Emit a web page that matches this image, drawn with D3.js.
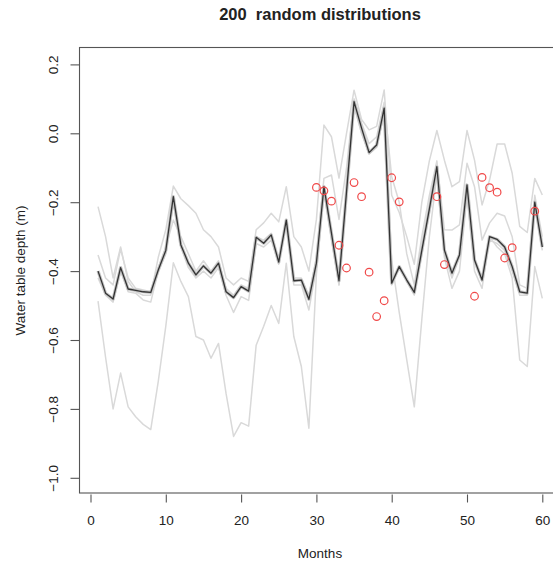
<!DOCTYPE html>
<html>
<head>
<meta charset="utf-8">
<script src="https://cdn.jsdelivr.net/npm/d3@7"></script>
<style>
  html, body { margin: 0; padding: 0; background: #fff; }
  svg { display: block; }
  text { font-family: "Liberation Sans", Arial, Helvetica, sans-serif; fill: #222; }
</style>
</head>
<body>
<svg id="chart" width="553" height="565"></svg>
<script>
// ---- data ----
const title = "200  random distributions";
const xLabel = "Months";
const yLabel = "Water table depth (m)";
const months = d3.range(1, 61);
const xTicks = [0, 10, 20, 30, 40, 50, 60];
const yTicks = [0.2, 0.0, -0.2, -0.4, -0.6, -0.8, -1.0];

// central (black) line
const central = [-0.40,-0.464,-0.481,-0.39,-0.452,-0.456,-0.46,-0.462,-0.397,-0.34,
  -0.184,-0.324,-0.377,-0.411,-0.385,-0.406,-0.377,-0.46,-0.477,-0.445,
  -0.458,-0.302,-0.319,-0.295,-0.374,-0.252,-0.428,-0.426,-0.482,-0.377,
  -0.155,-0.29,-0.428,-0.17,0.092,0.015,-0.056,-0.034,0.073,-0.435,
  -0.387,-0.426,-0.462,-0.34,-0.22,-0.097,-0.339,-0.406,-0.353,-0.15,
  -0.368,-0.426,-0.30,-0.308,-0.33,-0.387,-0.46,-0.464,-0.20,-0.33];

// outlying realizations (light grey)
const real1 = [-0.213,-0.30,-0.42,-0.33,-0.43,-0.46,-0.47,-0.47,-0.36,-0.28,
  -0.153,-0.19,-0.21,-0.232,-0.28,-0.30,-0.33,-0.42,-0.44,-0.42,
  -0.43,-0.28,-0.26,-0.232,-0.257,-0.155,-0.30,-0.33,-0.40,-0.25,
  0.024,-0.01,-0.13,0.0,0.125,0.04,0.01,0.02,0.126,-0.18,
  -0.23,-0.30,-0.38,-0.20,-0.08,0.008,-0.078,-0.155,-0.14,0.008,
  -0.078,-0.208,-0.135,-0.031,-0.031,-0.116,-0.27,-0.288,-0.131,-0.179];
const real2 = [-0.353,-0.42,-0.44,-0.336,-0.42,-0.45,-0.455,-0.46,-0.39,-0.33,
  -0.252,-0.30,-0.35,-0.40,-0.37,-0.40,-0.37,-0.45,-0.47,-0.44,
  -0.45,-0.30,-0.31,-0.29,-0.37,-0.25,-0.42,-0.42,-0.47,-0.36,
  -0.131,-0.121,-0.25,-0.10,0.10,0.03,-0.03,-0.01,0.09,-0.126,
  -0.20,-0.35,-0.44,-0.30,-0.18,-0.08,-0.28,-0.281,-0.266,-0.087,
  -0.155,-0.31,-0.26,-0.232,-0.24,-0.30,-0.44,-0.45,-0.18,-0.30];
const real3 = [-0.42,-0.47,-0.49,-0.40,-0.46,-0.464,-0.484,-0.49,-0.40,-0.35,
  -0.20,-0.33,-0.39,-0.42,-0.40,-0.42,-0.39,-0.47,-0.52,-0.474,
  -0.485,-0.32,-0.33,-0.31,-0.38,-0.26,-0.44,-0.44,-0.513,-0.39,
  -0.17,-0.31,-0.44,-0.19,0.08,0.0,-0.06,-0.04,0.06,-0.44,
  -0.39,-0.43,-0.47,-0.35,-0.23,-0.11,-0.35,-0.42,-0.36,-0.16,
  -0.37,-0.43,-0.31,-0.32,-0.34,-0.40,-0.47,-0.47,-0.21,-0.34];
const real4 = [-0.487,-0.65,-0.80,-0.696,-0.794,-0.823,-0.845,-0.86,-0.72,-0.56,
  -0.376,-0.43,-0.474,-0.59,-0.60,-0.653,-0.61,-0.755,-0.88,-0.84,
  -0.85,-0.615,-0.56,-0.50,-0.552,-0.377,-0.59,-0.677,-0.856,-0.41,
  -0.16,-0.30,-0.44,-0.18,0.08,0.0,-0.06,-0.04,0.06,-0.368,
  -0.52,-0.658,-0.794,-0.54,-0.30,-0.12,-0.36,-0.45,-0.40,-0.18,
  -0.40,-0.45,-0.30,-0.33,-0.35,-0.42,-0.658,-0.677,-0.387,-0.479];

// observations (red circles)
const obsMonths = [30,31,32,33,34,35,36,37,38,39,40,41,46,47,51,52,53,54,55,56,59];
const obsValues = [-0.157,-0.167,-0.197,-0.325,-0.391,-0.143,-0.184,-0.403,-0.532,-0.486,
  -0.129,-0.199,-0.184,-0.381,-0.473,-0.128,-0.158,-0.171,-0.362,-0.332,-0.226];

// ---- layout ----
const svg = d3.select("#chart");
const x = d3.scaleLinear().domain([0, 60]).range([90.5, 542.3]);
const y = d3.scaleLinear().domain([0.2, -1.0]).range([64.4, 477.8]);
const boxLeft = x(-1.46), boxRight = x(62.4), boxTop = 47.5, boxBottom = 493;
const fontFam = "'Liberation Sans', Arial, sans-serif";

const line = d3.line().x((d, i) => x(months[i])).y(d => y(d));

const plot = svg.append("g");

// grey realizations
[real1, real2, real3, real4].forEach(s => {
  plot.append("path").datum(s).attr("d", line)
    .attr("fill", "none").attr("stroke", "#d9d9d9").attr("stroke-width", 1.5)
    .attr("stroke-linejoin", "round");
});

// halo of the many overlapping realizations, then the central line
plot.append("path").datum(central).attr("d", line)
  .attr("fill", "none").attr("stroke", "#c4c4c4").attr("stroke-width", 3.2)
  .attr("stroke-linejoin", "round");
plot.append("path").datum(central).attr("d", line)
  .attr("fill", "none").attr("stroke", "#333").attr("stroke-width", 1.3)
  .attr("stroke-linejoin", "round");

// observations
plot.selectAll("circle.obs").data(obsMonths).enter().append("circle")
  .attr("class", "obs")
  .attr("cx", d => x(d))
  .attr("cy", (d, i) => y(obsValues[i]))
  .attr("r", 3.8)
  .attr("fill", "none").attr("stroke", "#f04848").attr("stroke-width", 1.2);

// box
svg.append("rect")
  .attr("x", boxLeft).attr("y", boxTop)
  .attr("width", boxRight - boxLeft).attr("height", boxBottom - boxTop)
  .attr("fill", "none").attr("stroke", "#555").attr("stroke-width", 1.1);

// x axis
const xAxis = d3.axisBottom(x).tickValues(xTicks).tickSize(8).tickPadding(13)
  .tickFormat(d3.format("d"));
const gx = svg.append("g").attr("transform", `translate(0,${boxBottom + 1.5})`).call(xAxis);
gx.select(".domain").remove();
gx.selectAll(".tick line").attr("stroke", "#555").attr("stroke-width", 1.1);
gx.selectAll(".tick text").attr("font-size", 13.5).attr("fill", "#222")
  .style("font-family", fontFam);

// y axis
const yAxis = d3.axisLeft(y).tickValues(yTicks).tickSize(9).tickPadding(0)
  .tickFormat(d => d3.format(".1f")(d).replace("-", "\u2212"));
const gy = svg.append("g").attr("transform", `translate(${boxLeft},0)`).call(yAxis);
gy.select(".domain").remove();
gy.selectAll(".tick line").attr("stroke", "#555").attr("stroke-width", 1.1);
gy.selectAll(".tick text")
  .attr("font-size", 13.5).attr("fill", "#222")
  .attr("x", 0).attr("dy", 0)
  .attr("text-anchor", "middle")
  .attr("transform", "translate(-26,0) rotate(-90)")
  .attr("dominant-baseline", "central")
  .style("font-family", fontFam);

// titles
svg.append("text").attr("x", 320).attr("y", 20).attr("text-anchor", "middle")
  .attr("font-size", 16.5).attr("font-weight", "bold")
  .style("white-space", "pre").attr("xml:space", "preserve")
  .text(title);
svg.append("text").attr("x", 320).attr("y", 558).attr("text-anchor", "middle")
  .attr("font-size", 13.5).text(xLabel);
svg.append("text").attr("transform", "translate(25,270.5) rotate(-90)")
  .attr("text-anchor", "middle").attr("font-size", 13.5).text(yLabel);
</script>
</body>
</html>
